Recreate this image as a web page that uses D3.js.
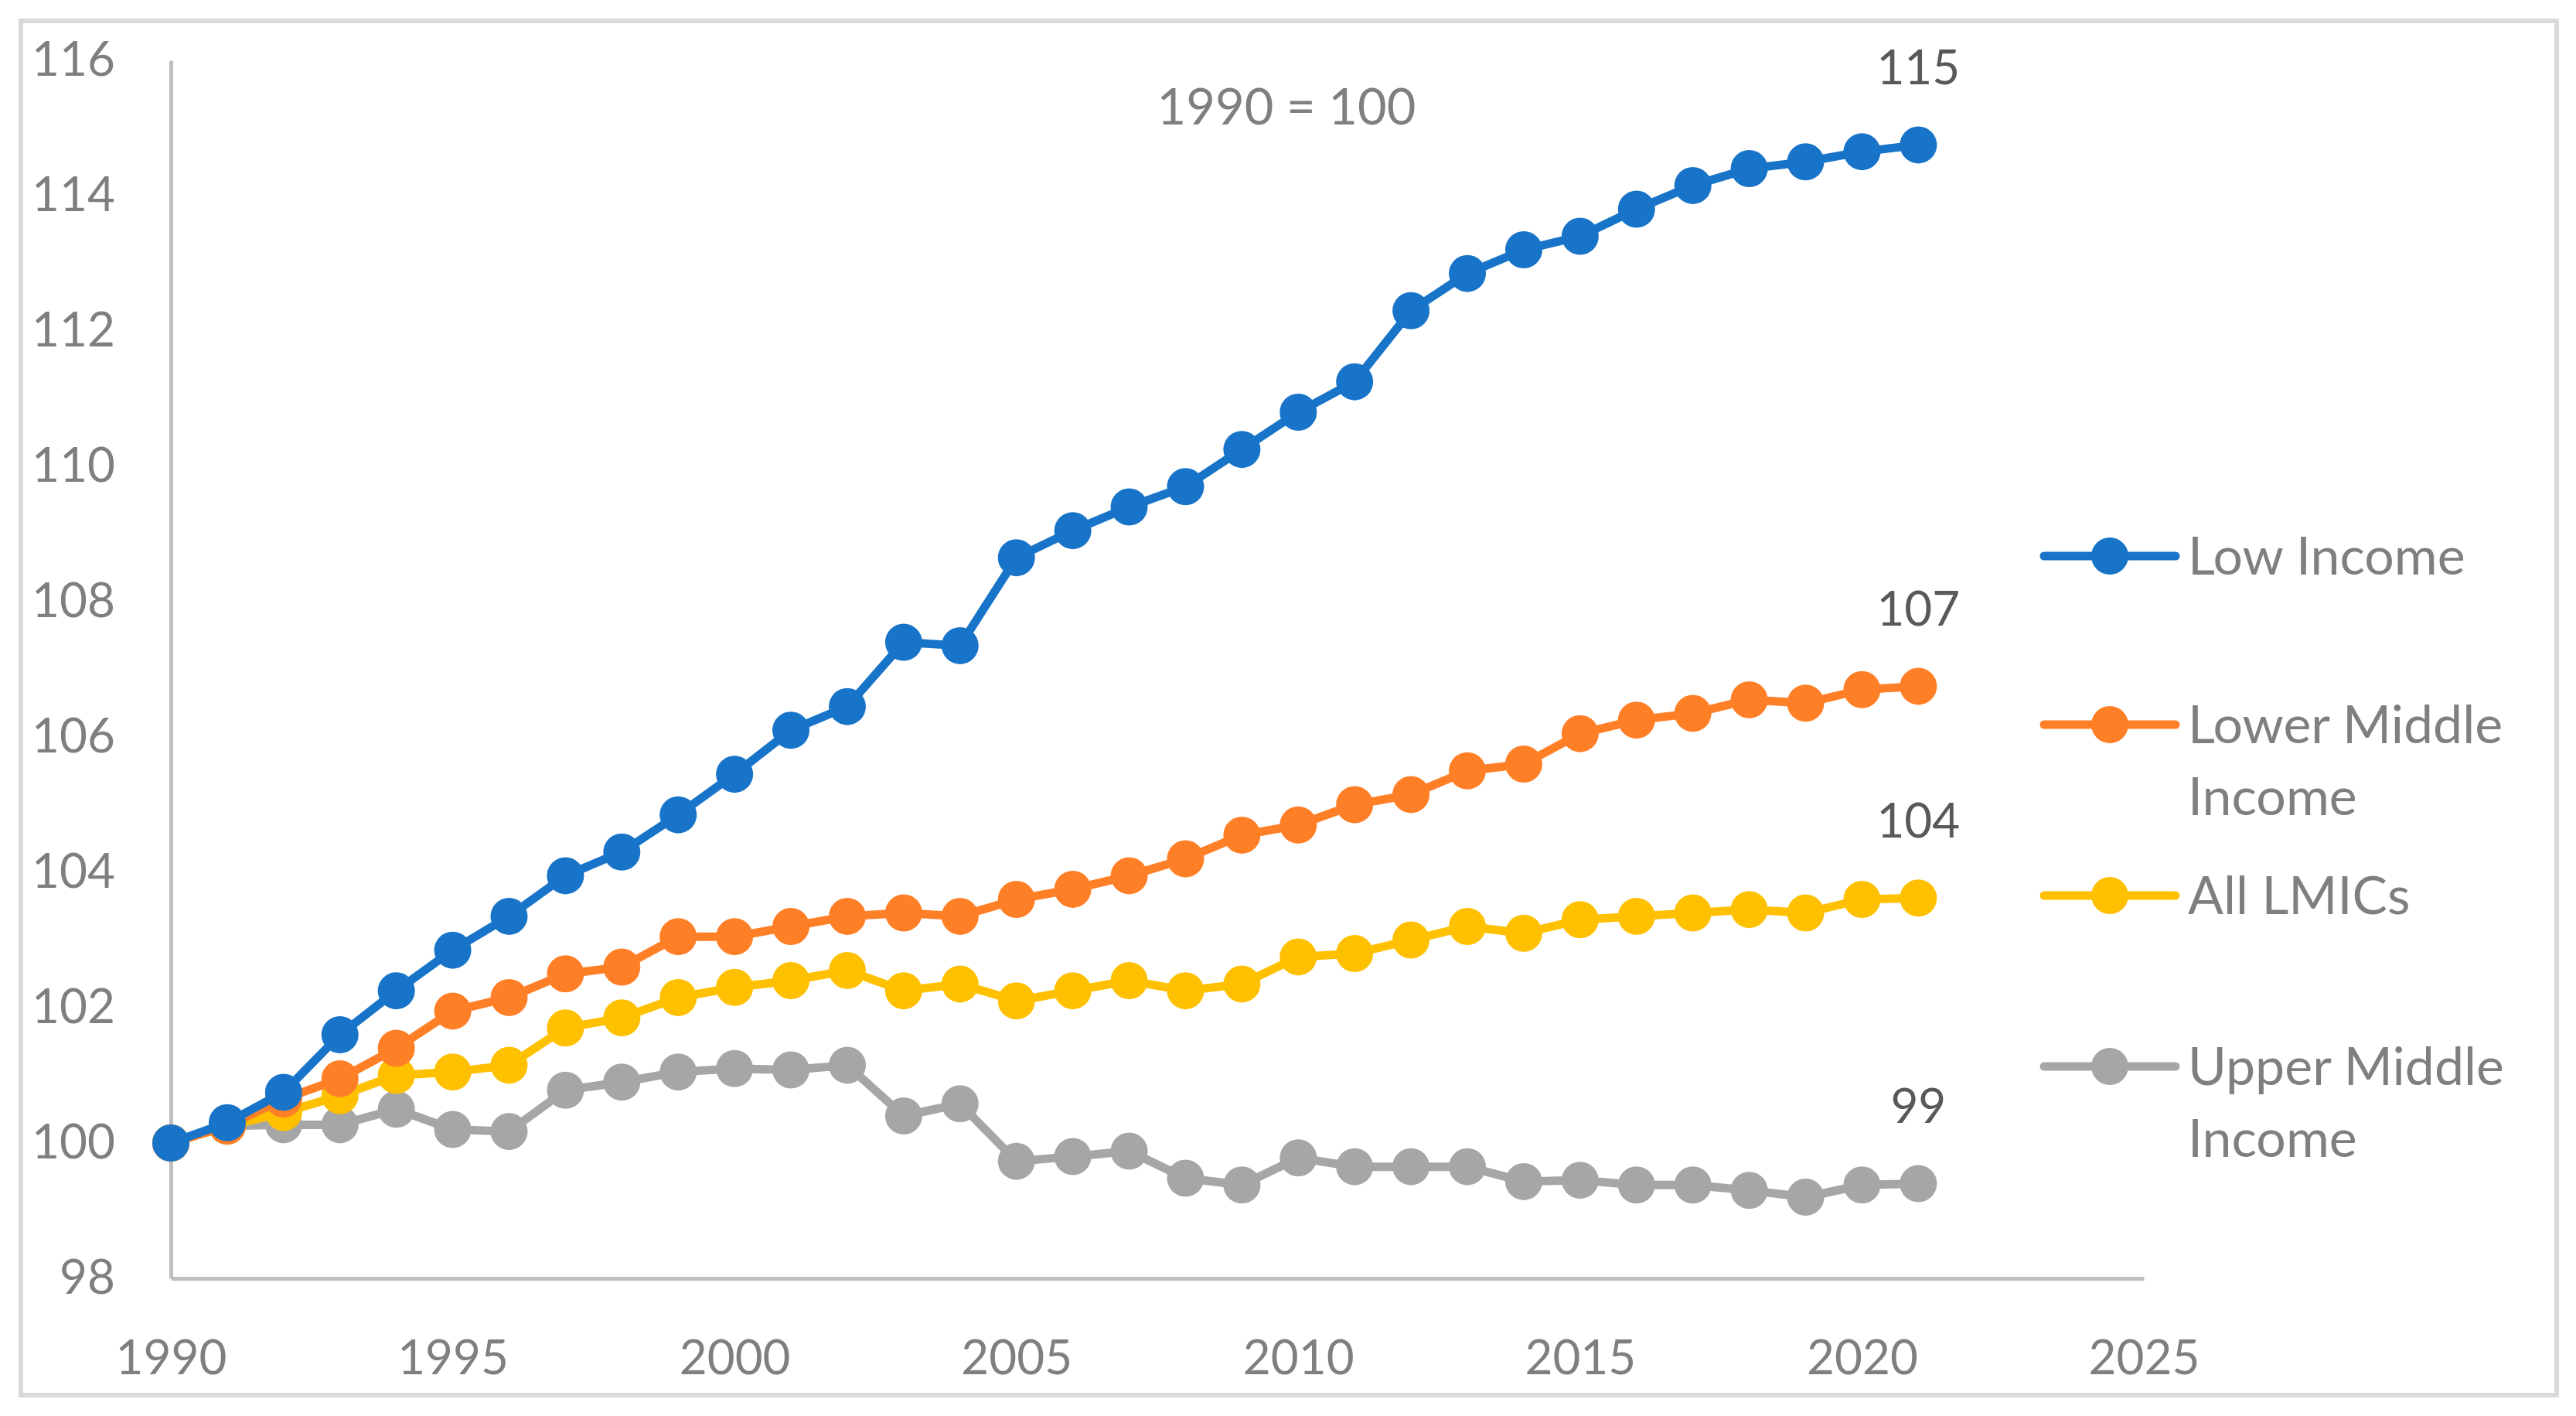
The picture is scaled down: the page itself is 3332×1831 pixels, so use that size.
<!DOCTYPE html>
<html>
<head>
<meta charset="utf-8">
<script src="https://cdn.jsdelivr.net/npm/d3@7"></script>
<style>
  body { margin: 0; background: #fff; }
  text { font-family: Lato, "Open Sans", sans-serif; }
</style>
</head>
<body>
<svg id="chart" width="3332" height="1831"></svg>
<script>
// data, 1990 = 100
var years = d3.range(1990, 2022);

var lowIncome = [100, 100.3, 100.75, 101.6, 102.25, 102.85, 103.35, 103.95, 104.3, 104.85,
  105.45, 106.1, 106.45, 107.4, 107.35, 108.65, 109.05, 109.4, 109.7, 110.25,
  110.8, 111.25, 112.3, 112.85, 113.2, 113.4, 113.8, 114.15, 114.4, 114.5, 114.65, 114.75];

var lowerMiddle = [100, 100.25, 100.65, 100.95, 101.4, 101.95, 102.15, 102.5, 102.6, 103.05,
  103.05, 103.2, 103.35, 103.4, 103.35, 103.6, 103.75, 103.95, 104.2, 104.55,
  104.7, 105.0, 105.15, 105.5, 105.6, 106.05, 106.25, 106.35, 106.55, 106.5, 106.7, 106.75];

var allLMICs = [100, 100.25, 100.45, 100.7, 101.0, 101.05, 101.15, 101.7, 101.85, 102.15,
  102.3, 102.4, 102.55, 102.25, 102.35, 102.1, 102.25, 102.4, 102.25, 102.35,
  102.75, 102.8, 103.0, 103.2, 103.1, 103.3, 103.35, 103.4, 103.45, 103.4, 103.6, 103.62];

var upperMiddle = [100, 100.25, 100.27, 100.27, 100.5, 100.2, 100.17, 100.78, 100.9, 101.05,
  101.1, 101.08, 101.15, 100.4, 100.58, 99.73, 99.8, 99.88, 99.48, 99.38,
  99.78, 99.65, 99.65, 99.65, 99.43, 99.45, 99.38, 99.38, 99.3, 99.2, 99.38, 99.4];

var seriesNames = [["Low Income"], ["Lower Middle", "Income"], ["All LMICs"], ["Upper Middle", "Income"]];
var seriesColors = ["#1874C8", "#FF7F27", "#FFC000", "#A6A6A6"];
var endLabels = ["115", "107", "104", "99"];

var xTicks = [1990, 1995, 2000, 2005, 2010, 2015, 2020, 2025];
var yTicks = [98, 100, 102, 104, 106, 108, 110, 112, 114, 116];

var seriesValues = [lowIncome, lowerMiddle, allLMICs, upperMiddle];

var svg = d3.select("#chart");

var xScale = d3.scaleLinear().domain([1990, 2025]).range([221, 2773]);
var yScale = d3.scaleLinear().domain([98, 116]).range([1653, 78]);

var textGray = "#7F7F7F";
var fontPx = 62;

// chart frame
svg.append("rect")
    .attr("x", 27).attr("y", 27)
    .attr("width", 3280).attr("height", 1777)
    .attr("fill", "none")
    .attr("stroke", "#D9D9D9")
    .attr("stroke-width", 6);

// -------*****--------^^^^-------*****--------
//               axes
// -------*****--------^^^^-------*****--------
var xAxis = svg.append("g")
    .attr("transform", "translate(0," + yScale(98) + ")")
    .call(d3.axisBottom(xScale).tickValues(xTicks).tickFormat(d3.format("d")).tickSize(0).tickPadding(80));

var yAxis = svg.append("g")
    .attr("transform", "translate(" + xScale(1990) + ",0)")
    .call(d3.axisLeft(yScale).tickValues(yTicks).tickSize(0).tickPadding(72));

[xAxis, yAxis].forEach(function(ax) {
  ax.select(".domain").attr("stroke", "#BFBFBF").attr("stroke-width", 5);
  ax.selectAll("text")
      .attr("fill", textGray)
      .style("font-size", fontPx + "px");
});

// note
svg.append("text")
    .attr("x", 1664).attr("y", 138)
    .attr("dy", "0.35em")
    .attr("text-anchor", "middle")
    .attr("fill", textGray)
    .style("font-size", "65px")
    .text("1990 = 100");

// -------*****--------^^^^-------*****--------
//               lines + markers
// -------*****--------^^^^-------*****--------
var line = d3.line()
    .x(function(d, i) { return xScale(years[i]); })
    .y(function(d) { return yScale(d); });

// draw from back to front so blue sits on top
for (var s = seriesValues.length - 1; s >= 0; s--) {
  var g = svg.append("g");
  g.append("path")
      .datum(seriesValues[s])
      .attr("d", line)
      .attr("fill", "none")
      .attr("stroke", seriesColors[s])
      .attr("stroke-width", 11)
      .attr("stroke-linejoin", "round");

  g.selectAll("circle")
      .data(seriesValues[s])
      .enter().append("circle")
      .attr("cx", function(d, i) { return xScale(years[i]); })
      .attr("cy", function(d) { return yScale(d); })
      .attr("r", 24)
      .attr("fill", seriesColors[s]);

  var last = seriesValues[s][seriesValues[s].length - 1];
  svg.append("text")
      .attr("x", xScale(years[years.length - 1]))
      .attr("y", yScale(last) - 100)
      .attr("dy", "0.35em")
      .attr("text-anchor", "middle")
      .attr("fill", "#595959")
      .style("font-size", fontPx + "px")
      .text(endLabels[s]);
}

// -------*****--------^^^^-------*****--------
//               legend
// -------*****--------^^^^-------*****--------
var legendY = [719, 937, 1158, 1379];
var legend = svg.append("g");
seriesNames.forEach(function(name, i) {
  var row = legend.append("g").attr("transform", "translate(0," + legendY[i] + ")");
  row.append("line")
      .attr("x1", 2644).attr("x2", 2814)
      .attr("y1", 0).attr("y2", 0)
      .attr("stroke", seriesColors[i])
      .attr("stroke-width", 11)
      .attr("stroke-linecap", "round");
  row.append("circle")
      .attr("cx", 2729).attr("cy", 0).attr("r", 24)
      .attr("fill", seriesColors[i]);
  var t = row.append("text")
      .attr("x", 2830).attr("y", 0)
      .attr("fill", textGray)
      .style("font-size", "68px");
  name.forEach(function(part, k) {
    t.append("tspan")
        .attr("x", 2830)
        .attr("y", k * 93)
        .attr("dy", "0.35em")
        .text(part);
  });
});
</script>
</body>
</html>
